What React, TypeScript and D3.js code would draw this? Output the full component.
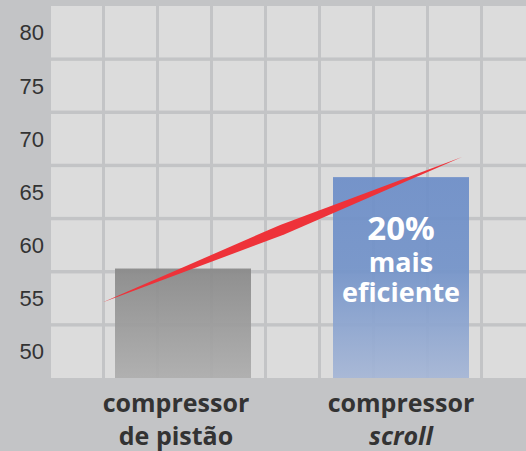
import React from 'react'
import * as d3 from 'd3'

// dados
const CATEGORIES = ['compressor de pistão', 'compressor scroll']
const LABEL_LINES = [['compressor', 'de pistão'], ['compressor', 'scroll']]
const VALUES = [57.8, 66.4]
const Y_TICKS = [50, 55, 60, 65, 70, 75, 80]
const GRID_Y = [52.5, 57.5, 62.5, 67.5, 72.5, 77.5]
const TREND_X = [-0.37, 1.28] // em unidades de categoria
const TREND_Y = [54.6, 68.3]
const BADGE = ['20%', 'mais', 'eficiente']

const W = 526
const H = 451
const BG = '#c3c4c6'
const CELL = '#dcdcdc'
const FONT = "'Open Sans', 'Noto Sans', sans-serif"

const App: React.FC = () => {
  const plot = { left: 51, top: 6, right: W, bottom: 378 }

  const y = d3.scaleLinear().domain([47.5, 82.5]).range([plot.bottom, plot.top])
  const x = d3.scaleLinear().domain([-0.5, 1.5]).range([74, 510])
  const barW = 136

  // linhas verticais da grade (passo fixo de 54px)
  const gridX = d3.range(plot.left - 1.5, plot.right + 54, 54)

  // seta vermelha: losango alongado
  const x0 = x(TREND_X[0]), y0 = y(TREND_Y[0])
  const x1 = x(TREND_X[1]), y1 = y(TREND_Y[1])
  const len = Math.hypot(x1 - x0, y1 - y0)
  const nx = -(y1 - y0) / len, ny = (x1 - x0) / len
  const half = 5.2
  const mx = x0 + (x1 - x0) * 0.5, my = y0 + (y1 - y0) * 0.5
  const arrow = d3.path()
  arrow.moveTo(x0, y0)
  arrow.lineTo(mx + nx * half, my + ny * half)
  arrow.lineTo(x1, y1)
  arrow.lineTo(mx - nx * half, my - ny * half)
  arrow.closePath()

  return (
    <svg width={W} height={H} style={{ position: 'absolute', left: 0, top: 0 }}>
      <defs>
        <linearGradient id="gGray" x1="0" y1="0" x2="0" y2="1">
          <stop offset="0" stopColor="#898989" />
          <stop offset="1" stopColor="#adadad" />
        </linearGradient>
        <linearGradient id="gBlue" x1="0" y1="0" x2="0" y2="1">
          <stop offset="0" stopColor="#6d8ec8" />
          <stop offset="0.45" stopColor="#7393c9" />
          <stop offset="1" stopColor="#a5b6d6" />
        </linearGradient>
      </defs>
      <rect width={W} height={H} fill={BG} />
      <rect x={plot.left} y={plot.top} width={plot.right - plot.left} height={plot.bottom - plot.top} fill={CELL} />

      {gridX.map((gx, i) => (
        <rect key={'vx' + i} x={gx - 1.5} y={plot.top} width={3} height={plot.bottom - plot.top} fill={BG} />
      ))}
      {GRID_Y.map((v, i) => (
        <rect key={'hy' + i} x={plot.left} y={y(v) - 1.7} width={plot.right - plot.left} height={3.4} fill={BG} />
      ))}

      {Y_TICKS.map(t => (
        <text key={t} x={44} y={y(t)} dy="0.36em" textAnchor="end"
          fontFamily="'Liberation Sans', Arial, sans-serif" fontSize={22} fill="#333">
          {t}
        </text>
      ))}

      {CATEGORIES.map((c, i) => (
        <rect key={c} x={x(i) - barW / 2} y={y(VALUES[i])} width={barW}
          height={plot.bottom - y(VALUES[i])}
          fill={i === 0 ? 'url(#gGray)' : 'url(#gBlue)'} fillOpacity={0.93} />
      ))}

      <path d={arrow.toString()} fill="#ee3239" />

      <g fill="#fff" fontFamily={FONT} fontWeight={700} textAnchor="middle">
        <text x={x(1)} y={240} fontSize={33}>{BADGE[0]}</text>
        <text x={x(1)} y={272} fontSize={27}>{BADGE[1]}</text>
        <text x={x(1)} y={302} fontSize={27}>{BADGE[2]}</text>
      </g>

      {LABEL_LINES.map((lines, i) => (
        <g key={i} fontFamily={FONT} fontWeight={700} fill="#333" textAnchor="middle" fontSize={25}>
          <text x={x(i) - (i === 0 ? 7 : 0)} y={412}>{lines[0]}</text>
          <text x={x(i) - (i === 0 ? 7 : 0)} y={445} fontStyle={i === 1 ? 'italic' : 'normal'}>{lines[1]}</text>
        </g>
      ))}
    </svg>
  )
}

export default App
